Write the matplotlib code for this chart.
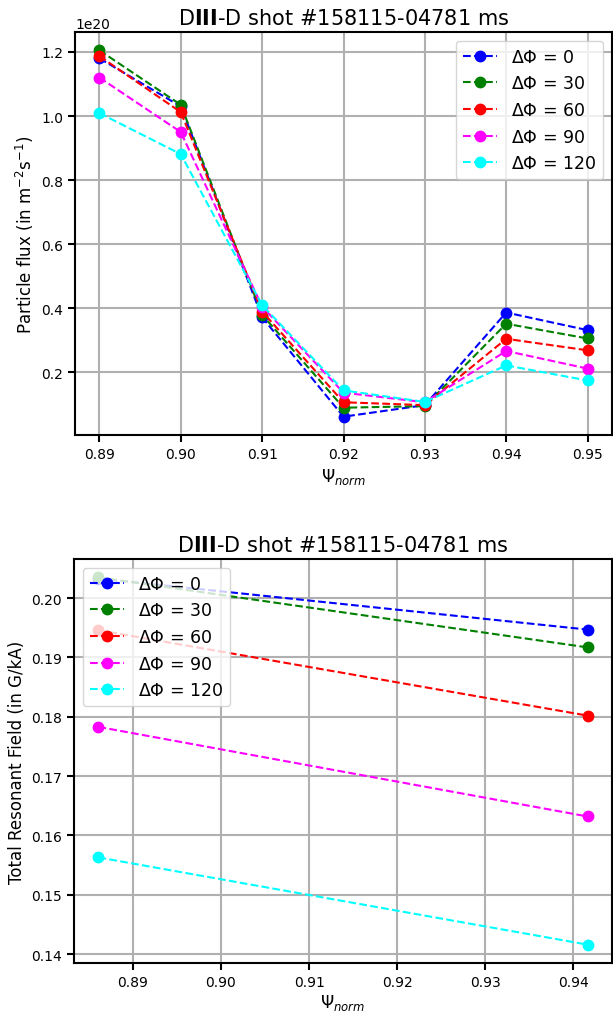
import numpy as np
import matplotlib
matplotlib.use("Agg")
import matplotlib.pyplot as plt

# particle flux vs psi_norm for each phase difference (units of 1e20 m^-2 s^-1)
psi_flux = [0.89, 0.90, 0.91, 0.92, 0.93, 0.94, 0.95]
flux_dphi0 = [1.180, 1.030, 0.372, 0.062, 0.098, 0.387, 0.332]
flux_dphi30 = [1.205, 1.035, 0.380, 0.090, 0.095, 0.352, 0.306]
flux_dphi60 = [1.187, 1.012, 0.390, 0.107, 0.098, 0.305, 0.269]
flux_dphi90 = [1.120, 0.950, 0.405, 0.137, 0.107, 0.267, 0.212]
flux_dphi120 = [1.009, 0.881, 0.410, 0.144, 0.108, 0.222, 0.175]

# total resonant field at the two surfaces (G/kA)
psi_field = [0.8861, 0.9416]
field_dphi0 = [0.2033, 0.1947]
field_dphi30 = [0.2035, 0.1917]
field_dphi60 = [0.1946, 0.1802]
field_dphi90 = [0.1783, 0.1632]
field_dphi120 = [0.1563, 0.1416]

labels = [r"$\Delta\Phi$ = 0", r"$\Delta\Phi$ = 30", r"$\Delta\Phi$ = 60",
          r"$\Delta\Phi$ = 90", r"$\Delta\Phi$ = 120"]
colors = ["blue", "green", "red", "magenta", "cyan"]

title = r"D$\mathbf{III}$-D shot #158115-04781 ms"

plt.rcParams["font.size"] = 12
plt.rcParams["xtick.labelsize"] = 10
plt.rcParams["ytick.labelsize"] = 10

fig = plt.figure(figsize=(6.13, 10.12), dpi=100)
ax1 = fig.add_axes([75 / 613, 1 - 436 / 1012, 537 / 613, 403 / 1012])
ax2 = fig.add_axes([74 / 613, 1 - 964 / 1012, 538 / 613, 404 / 1012])

flux = [flux_dphi0, flux_dphi30, flux_dphi60, flux_dphi90, flux_dphi120]
for vals, c, lab in zip(flux, colors, labels):
    ax1.plot(psi_flux, np.array(vals) * 1e20, "--o", color=c, label=lab, markersize=7.5)
ax1.set_title(title, fontsize=15)
ax1.set_xlabel(r"$\Psi_{norm}$")
ax1.set_ylabel(r"Particle flux (in m$^{-2}$s$^{-1}$)")
ax1.set_xticks(psi_flux)
ax1.grid(True, color="#b0b0b0", linewidth=1.5)
ax1.legend(loc="upper right", fontsize=12.5)

field = [field_dphi0, field_dphi30, field_dphi60, field_dphi90, field_dphi120]
for vals, c, lab in zip(field, colors, labels):
    ax2.plot(psi_field, vals, "--o", color=c, label=lab, markersize=7.5)
ax2.set_title(title, fontsize=15)
ax2.set_xlabel(r"$\Psi_{norm}$", labelpad=2)
ax2.set_ylabel("Total Resonant Field (in G/kA)")
ax2.grid(True, color="#b0b0b0", linewidth=1.5)
ax2.legend(loc="upper left", fontsize=12.5)

for ax in (ax1, ax2):
    for sp in ax.spines.values():
        sp.set_linewidth(1.5)
    ax.tick_params(width=1.5, length=5)

fig.savefig("out.png", dpi=100)
